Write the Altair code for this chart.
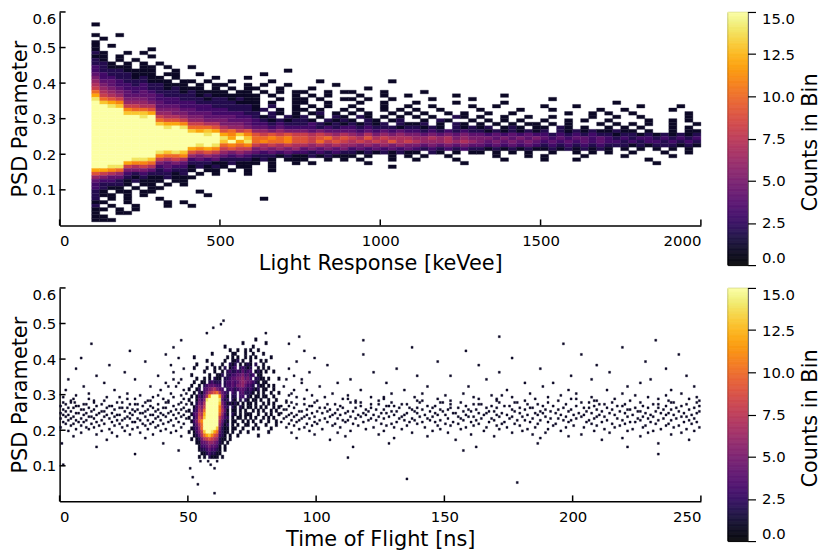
import altair as alt
import pandas as pd

FONT = "DejaVu Sans"

# ---------------- top panel: PSD parameter vs light response ----------------
# one character per cell: '.' empty, hex digit = counts in bin (f = 15 or more)
LR_X0 = 100        # keVee, left edge of first column
LR_DX = 25         # keVee per column
LR_DY = 0.01       # PSD per row
LR_TOP = 0.56      # lower edge of the first row
lr_rows = [
    "1",
    ".",
    ".",
    "1|..1",
    ".|1..",
    "1|...",
    "1|.1.",
    "1|...|...1",
    "2|1..|1.1.",
    "1|1.1|...1",
    "2|1.1|.1..",
    "2|21.|1.1.|1...",
    "3|211|1.11|.1..|1...",
    "3|222|1111|..1.|....|....|....1.",
    "4|322|2111|.11.|.1..|....|.1....",
    "5|332|2121|1.1.|...1|...1",
    "6|443|2221|11.1|1.1.|.1..|..1...|..1...|.....1..",
    "7|543|3232|2111|.1.1|1..1|.1..1.|....1.",
    "8|654|3332|2121|11.1|.1.1|1..1..|.1....|..1.....",
    "a|765|4343|2221|2111|1.11|.1.1.1|1..1.1|1...1...|.1......",
    "c|876|4444|3222|2121|1111|1.1..1|.1.1..|.1..1..1|.....1..|...1....",
    "e|a98|5554|3332|2212|2121|1..1.1|1.1..1|1.1..1..|..1....1|........|.1......",
    "f|dcb|6665|4333|3222|2211|1.1..1|1..1..|.1..1...|1....1..|...1....|........|.1..........",
    "f|fed|8877|4443|3332|2222|1.2..1|.1.1..|1...1..1|..1....1|..1.....|1...1...|....1....1..",
    "f|fff|baa9|5554|4333|3222|12.1.1|1.1..1|.1..1.1.|1..1....|1....1..|.1.....1|..1.....1...",
    "f|fff|dddc|6655|4443|3332|2.21.1|.12.1.|1.1..1.1|.1..1.1.|.1..1...|...1..1.|1..1......1.",
    "f|fff|ffef|8776|5544|4433|212.21|2.1.21|.21.1.1.|1.1..21.|1..1..1.|.1....1.|.1..1.....1.",
    "f|fff|ffff|a998|6655|5444|321212|21.212|1.21.12.|.1.21..1|.1.1.1..|1..1.1..|1....1..1.1.",
    "f|fff|ffff|dccb|8877|5554|332322|232121|21212.21|12.1.21.|1.1.1.11|.1.1...1|.1.1.1..1..1",
    "f|fff|ffff|fefe|aaa9|7665|443433|332323|32322212|2121.212|12.121.1|1.21.1..|1.1.1...1.1.",
    "f|fff|ffff|ffff|dcdc|9a89|665655|545444|43434343|32323232|21212121|2.212121|1211.1..1.11",
    "f|fff|ffff|ffff|ffef|cbdb|989898|878767|65756565|54545454|43434343|32323232|212212121212",
    "f|fff|ffff|ffff|ffff|ecfd|aabab9|989a89|87978777|66767565|55454545|43434434|323233232323",
    "f|fff|ffff|ffff|ffff|dfce|abaab9|98a898|78787978|76667676|54545454|34343434|332323323232",
    "f|fff|ffff|ffff|fefe|abab|878787|767676|65656565|54545454|43434343|23232323|222121222121",
    "f|fff|ffff|ffff|cbcb|8988|565656|454545|34343434|32323232|21212121|12121212|1.1.1.1.1.1.",
    "f|fff|ffff|eded|9898|6565|434343|323232|21212121|1.21.1.1|1.1.1.1.|.1..1.1.|1..1...1..1.",
    "f|fff|ffff|baab|6565|4343|222121|121211|1.1..1.1|.1..1...|..1...1.|1....1..|..1.....1...",
    "f|fff|feed|8787|3434|2222|121.11|1..1.1|.1...1..|1....1..|...1....|1...1...|.....1......",
    "f|fff|cbba|5454|2221|1211|1.1..1|.1....|..1.....|......1.|........|........|......1.....",
    "f|fee|8787|3433|1212|1.11|..1...|......|.....1..",
    "c|cba|5554|2322|1.11|.1.1|..1...",
    "9|876|3232|2212|.1.1|...1",
    "6|544|2121|1211|1...",
    "4|332|1211|1.11",
    "3|222|1.11|.1.1",
    "3|211|.1.1|1...",
    "2|1.1|1.11|....|.1..",
    "2|11.|1.1.|....|..1.",
    "2|.1.|1...|1...|....|....|.1....",
    "1|1..|1...|.1.1",
    "2|.1.|.1..|.1..|1...",
    "1|1.1|.1..",
    "1|..1|1...",
    "1|1..",
    "1|11.",
]

# ---------------- bottom panel: PSD parameter vs time of flight ----------------
TOF_X0 = 50        # ns, left edge of the dense-region grid
TOF_DX = 1         # ns per column
TOF_DY = 0.01
TOF_TOP = 0.45
tof_rows = [
    "......|......|......|......|..1...|......",
    "......|......|......|...1..|......|1.....",
    "......|......|..1...|......|.1....|......",
    "......|......|....1.|.1..1.|1..1..|......",
    "......|...1..|.....1|1...1.|.1...1|......",
    "..1...|......|...1.1|.1..1.|1.1...|..1...",
    "......|.1....|..1..1|12.1..|1...1.|1.....",
    "...1..|...1..|.1..21|2.1.12|1.2..1|......",
    "..1...|.1..1.|1.2.12|3.2321|2..1.1|.1....",
    "......|1...1.|.1.232|232423|3.121.|1..1..",
    ".1....|..1..1|12.223|344534|23.11.|......",
    "...1..|1.1.21|1.2234|455645|3.2211|.1...1",
    "..1..1|1.2322|2.2334|345654|4321.1|1.....",
    ".1..1.|234443|3.2334|355643|32.211|.1.1..",
    "1..12.|345675|43.233|234432|3212.1|1..1..",
    "..1.21|35789a|7432.3|2.3422|21.1.1|..1..1",
    ".1.132|47cfff|c531.2|2.33.2|1.11.1|1..1..",
    "1..143|5effff|e422.2|1.2.21|.11.1.|.1..1.",
    ".1.254|7fffff|d53121|21.1.1|1.1..1|.1.1..",
    "..1365|8fffff|b632.2|1.21.1|1.1.1.|1..1.1",
    "1.2376|afffff|b741.1|1.1.1.|.1.1.1|..1.1.",
    ".13487|cfffff|a631.2|1.1.11|1..1..|1.1..1",
    "1.2498|dfffff|8532.1|.11.1.|1.1..1|.1.1..",
    ".1359b|ffffff|7421.1|1..1.1|.1..1.|.1..1.",
    "..247a|ffffff|6312.1|.1..11|..1...|1...1.",
    ".1236a|fffffd|5211.1|1..1..|.1.1..|..1...",
    "1.1358|dffeca|4211.1|..1..1|......|.1....",
    "..1247|acdb98|321.1.|.1....|...1..|......",
    ".1.125|789876|211.1.|......|......|......",
    "...114|456654|21.1..|......|......|......",
    "....13|345443|1.1...|......|......|......",
    "....12|234332|1.1...|......|......|......",
    ".....1|123221|1.....|......|......|......",
    "....1.|1.2111|.1....|......|......|......",
]

# sparse single-count bins (count 1) outside the dense grid: PSD row -> ToF positions (ns)
dot_y = [
    0.505, 0.495, 0.485, 0.470, 0.460, 0.450, 0.440, 0.430, 0.420, 0.410,
    0.400, 0.390, 0.380, 0.370, 0.360, 0.350, 0.340, 0.330, 0.320, 0.310,
    0.300, 0.295, 0.290, 0.285, 0.280, 0.275, 0.270, 0.265, 0.260, 0.255,
    0.250, 0.245, 0.240, 0.235, 0.230, 0.225, 0.220, 0.215, 0.210, 0.205,
    0.200, 0.195, 0.190, 0.185, 0.180, 0.175, 0.170, 0.160, 0.150, 0.140,
    0.130, 0.120, 0.110, 0.100, 0.090, 0.065, 0.060, 0.050, 0.045, 0.020,
]
dot_x = [
    "63.5", "62.5", "59.5", "57 80", "93 171", "47 118 232", "12 89 196", "44 137 219",
    "27 95 158", "41 118 203 241",
    "8 46 99 176", "33 92 147 228", "19 43 104 163 209", "6 48 89 131 187 236",
    "25 44 97 122 171 214", "14 38 91 139 152 199 244",
    "3 29 44 47 88 94 113 166 207 230",
    "17 41 46 94 108 127 181 192 226",
    "9 35 42 45 87 101 143 159 188 221 247",
    "2 21 39 48 91 96 117 134 174 198 213 238",
    "11 26 43 49 90 106 129 141 157 183 201 219 242",
    "6 31 38 47 89 98 112 150 168 172 195 224 236",
    "1 18 23 36 44 92 103 121 126 138 161 176 190 207 229 248",
    "5 11 26 29 40 48 95 110 112 126 147 163 170 185 199 201 216 233 245",
    "4 13 17 34 35 42 88 100 115 124 139 141 152 170 181 194 208 209 222 237 249",
    "1 4 5.5 13 22 24 33 41 42 47 88 90 99 113 115 117 129 140 148 149 156 171 177 178 190 203 206 215 226 238 239 248",
    "2 9 10 16 27 29 30 38 46 49 92 95 104 107 121 124 133 135 152 161 163 164 182 186 197 210 212 220 231 233 244",
    "0 6 7 14 19 20 32 35 44 86 89 97 98 109 117 127 128 130 143 146 158 168 173 175 188 192 201 208 217 219 227 236 242 249",
    "3 5 11 18 23 24 26 36 40 41 48 91 101 103 110 115 121 132 136 139 145 152 155 166 170 179 183 184 196 204 206 213 224 229 233 240 247",
    "1 8 9 13 21 28 30 34 38 45 47 87 88 96 105 108 119 123 126 137 141 148 151 159 162 176 181 189 194 199 209 215 221 222 235 238 245",
    "2 4 12 16 17 25 29 33 37 43 49 93 94 100 104 112 114 120 129 131 138 144 149 157 160 167 169 177 187 191 198 205 211 218 225 226 232 241 249",
    "0 6 7 10 15 20 27 31 32 39 42 46 86 90 98 102 107 111 118 125 127 135 139 146 153 154 163 166 172 179 185 188 193 202 207 214 220 228 234 237 243 248",
    "1 3 9 14 18 22 23 28 35 36 40 44 48 89 92 96 106 109 116 119 122 130 134 142 147 150 158 165 170 174 182 186 195 200 204 210 216 223 230 236 239 246",
    "2 5 11 12 17 21 26 33 38 41 47 88 91 95 99 105 113 117 124 128 133 140 145 155 159 161 171 176 180 189 197 203 209 212 221 227 231 242 244",
    "0 4 8 13 19 25 27 30 37 45 49 87 94 97 103 108 115 121 126 132 137 143 151 156 164 168 175 184 191 194 201 208 217 225 229 235 240 247",
    "3 6 10 16 22 24 31 34 39 43 90 93 101 110 112 120 123 134 138 144 148 157 162 169 178 181 187 196 199 206 213 219 226 233 238 245",
    "1 7 9 14 20 28 29 36 42 46 86 92 99 104 111 118 131 136 141 146 153 160 167 173 183 190 198 205 211 222 224 230 243 248",
    "2 5 12 17 23 32 35 40 48 89 96 100 107 114 125 129 139 150 155 163 172 177 186 193 207 215 220 232 237 246",
    "4 8 15 21 26 33 38 44 91 98 106 116 127 135 147 152 161 170 179 192 200 209 218 228 236 241",
    "0 10 13 24 30 37 47 88 95 109 122 130 142 158 166 174 185 197 204 216 227 239 249",
    "6 11 19 28 34 41 93 102 119 133 148 156 171 182 190 212 223 234 244",
    "3 16 25 39 45 97 113 126 145 165 180 195 208 221 231 247",
    "8 20 31 43 90 108 137 151 176 189 214 229 242",
    "14 27 36 99 124 160 184 203 238",
    "5 22 47 111 143 169 198 226",
    "33 92 130 187 219",
    "18 105 154 211 245",
    "0.5 40 128 186 233",
    "14 114 162 221",
    "46 157",
    "29 233",
    "112",
    "54.5 57.5 61",
    "1 58.5",
    "50.5 60",
    "51.5",
    "135",
    "178",
    "53.5",
    "60",
]
DOT_W = 0.8     # ns, width of one fine ToF bin
DOT_H = 0.006   # PSD, height of one fine bin

lr_ticks = [0, 500, 1000, 1500, 2000]
tof_ticks = [0, 50, 100, 150, 200, 250]
psd_ticks = [0.1, 0.2, 0.3, 0.4, 0.5, 0.6]
cbar_ticks = [0, 2.5, 5, 7.5, 10, 12.5, 15]
CMAX = 15


def grid_cells(rows, top_y, dy, x0, dx):
    recs = []
    for r, row in enumerate(rows):
        y = round(top_y - r * dy, 4)
        for i, ch in enumerate(row.replace("|", "")):
            if ch != ".":
                recs.append(dict(x=x0 + i * dx, x2=x0 + (i + 1) * dx,
                                 y=y, y2=y + dy, c=int(ch, 16)))
    return recs


def dot_cells(ys, xs):
    recs = []
    for y, s in zip(ys, xs):
        for tok in s.split():
            x = float(tok)
            recs.append(dict(x=x, x2=x + DOT_W, y=y, y2=y + DOT_H, c=1))
    return recs


top_df = pd.DataFrame(grid_cells(lr_rows, LR_TOP, LR_DY, LR_X0, LR_DX))
bot_df = pd.DataFrame(grid_cells(tof_rows, TOF_TOP, TOF_DY, TOF_X0, TOF_DX)
                      + dot_cells(dot_y, dot_x))

W, H = 646, 215
CB_W, CB_H = 20, 255
cscale = alt.Scale(scheme="inferno", domain=[0, CMAX], clamp=True)
psd_scale = alt.Scale(domain=[0, 0.6], nice=False, zero=False)


def panel(df, xdomain, xticks, xtitle):
    xs = alt.Scale(domain=xdomain, nice=False, zero=False)
    xax = alt.Axis(title=xtitle, values=xticks, format="d")
    yax = alt.Axis(title="PSD Parameter", values=psd_ticks, format=".1f", labelFlush=True)
    heat = alt.Chart(df).mark_rect(strokeWidth=0.35).encode(
        x=alt.X("x:Q", scale=xs, axis=xax), x2="x2:Q",
        y=alt.Y("y:Q", scale=psd_scale, axis=yax), y2="y2:Q",
        color=alt.Color("c:Q", scale=cscale, legend=None),
        stroke=alt.Stroke("c:Q", scale=cscale, legend=None),
    )
    tx = alt.Chart(pd.DataFrame({"x": xticks})).mark_rule(color="black", strokeWidth=1.5).encode(
        x=alt.X("x:Q", scale=xs, axis=xax), y=alt.value(H), y2=alt.value(H - 6))
    ty = alt.Chart(pd.DataFrame({"y": psd_ticks})).mark_rule(color="black", strokeWidth=1.5).encode(
        y=alt.Y("y:Q", scale=psd_scale, axis=yax), x=alt.value(0), x2=alt.value(6))
    return alt.layer(heat, tx, ty).properties(width=W, height=H)


def colorbar():
    steps = pd.DataFrame({"v": [i * 0.05 for i in range(int(CMAX / 0.05))]})
    bar = alt.Chart(steps).transform_calculate(
        v2="datum.v + 0.05", vm="datum.v + 0.025"
    ).mark_rect(strokeWidth=0.4).encode(
        y=alt.Y("v:Q", scale=alt.Scale(domain=[0, CMAX], nice=False, zero=False),
                axis=alt.Axis(orient="right", values=cbar_ticks, format=".1f", title=None,
                              ticks=True, tickSize=8, tickWidth=1.2, tickColor="black",
                              domain=False, labelFlush=True, labelPadding=6)),
        y2="v2:Q",
        x=alt.value(0), x2=alt.value(CB_W),
        color=alt.Color("vm:Q", scale=cscale, legend=None),
        stroke=alt.Stroke("vm:Q", scale=cscale, legend=None),
    )
    ttl = alt.Chart(pd.DataFrame({"t": ["Counts in Bin"]})).mark_text(
        angle=270, fontSize=21, font=FONT, color="black", align="center", baseline="middle"
    ).encode(text="t:N", x=alt.value(84), y=alt.value(CB_H / 2 + 4))
    return alt.layer(bar, ttl).properties(
        width=CB_W, height=CB_H,
        view=alt.ViewBackground(stroke="black", strokeWidth=1))


top = panel(top_df, [0, 2000], lr_ticks, "Light Response [keVee]")
bot = panel(bot_df, [0, 250], tof_ticks, "Time of Flight [ns]")

chart = alt.concat(
    top, colorbar(), bot, colorbar(),
    columns=2, spacing={"row": 23, "column": 27}, bounds="flush",
).resolve_scale(
    x="independent", y="independent", color="independent", stroke="independent"
).properties(
    padding={"left": 1, "top": 0, "right": 0, "bottom": 0}
).configure(font=FONT).configure_view(stroke=None).configure_axis(
    labelFont=FONT, titleFont=FONT, labelFontSize=15, titleFontSize=21,
    labelColor="black", titleColor="black", titleFontWeight="normal",
    grid=False, ticks=False, domainColor="black", domainWidth=1.5,
).configure_axisX(labelPadding=8, titlePadding=4).configure_axisY(labelPadding=4, titlePadding=2)

chart.save("out.html", embed_options={"renderer": "svg", "actions": False})
